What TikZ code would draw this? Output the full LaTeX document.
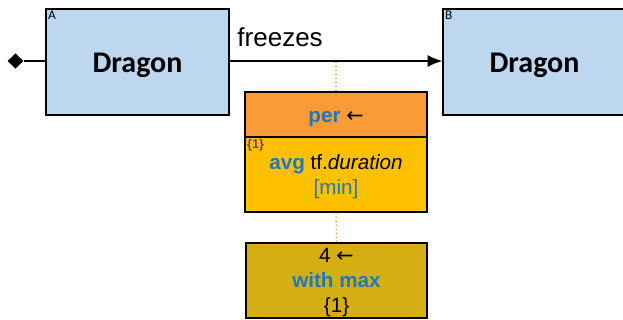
\documentclass[tikz,border=0pt]{standalone}
\usepackage{fontspec}
\setmainfont{Liberation Sans}
\newfontfamily\calibri{Carlito}
\newfontfamily\symfont{DejaVu Sans}
\usetikzlibrary{arrows.meta,shapes.geometric}
\definecolor{entfill}{RGB}{189,215,238}
\definecolor{perfill}{RGB}{250,155,55}
\definecolor{aggfill}{RGB}{255,192,0}
\definecolor{limfill}{RGB}{212,174,18}
\definecolor{aggblue}{RGB}{30,120,190}
\definecolor{tagpurple}{RGB}{112,48,160}
\definecolor{dotorange}{RGB}{240,160,60}
\newcommand{\larr}{{\symfont ←}}

\begin{document}
\begin{tikzpicture}[x=0.75pt,y=-0.75pt,
  every node/.style={font=\fontsize{15.5}{19}\selectfont},
  ent/.style={draw=black,fill=entfill,line width=1.1pt,inner sep=0pt,minimum width=137.25pt,minimum height=79.5pt,text height=16.5pt,text depth=0pt,font=\calibri\bfseries\fontsize{22.5}{27}\selectfont},
  tag/.style={anchor=north west,inner sep=2pt,font=\calibri\fontsize{10}{11}\selectfont},
  op/.style={draw=black,line width=1.1pt,align=center,inner sep=0pt,minimum width=136.5pt},
  ref/.style={anchor=north west,inner sep=2pt,text=tagpurple,font=\bfseries\fontsize{9.5}{10}\selectfont},
  ar/.style={-{Latex[length=11pt,width=9pt]},line width=1.1pt},
  dot/.style={dotorange,dotted,line width=1pt}]
\useasboundingbox (0,0) rectangle (623,320);
\clip (0,0) rectangle (623,320);
\node[ent,label={[tag]north west:A}] (A) at (137.5,62) {Dragon};
\node[ent,label={[tag]north west:B}] (B) at (534.5,62) {Dragon};
\node[diamond,fill=black,inner sep=0pt,minimum width=12pt,minimum height=11.5pt] (d) at (15.5,61) {};
\node[op,fill=perfill,minimum height=33.75pt,text height=12pt,text depth=0pt] (per) at (336,114.5) {\textbf{\color{aggblue}per} \larr};
\node[op,fill=aggfill,minimum height=56.25pt,text depth=0pt,label={[ref]north west:\{1\}}] (agg) at (336,174.5) {\textbf{\color{aggblue}avg} tf.\textit{duration}\\{\color{aggblue}[min]}};
\node[op,fill=limfill,minimum height=56.25pt,minimum width=135.75pt,text depth=-3.5pt,font=\fontsize{15.5}{18.75}\selectfont] (lim) at (336.5,280.5) {4 \larr\\\textbf{\color{aggblue}with max}\\\{1\}};
\coordinate (tap) at (336,62);
\draw[line width=1.1pt] (d.east) -- (A.west |- d.east);
\draw[ar] (A.east |- d.east) -- node[pos=0,anchor=base west,inner sep=0pt,xshift=5.25pt,yshift=10.5pt,font=\fontsize{19.5}{23}\selectfont] (lbl) {freezes} (B.west |- d.east);
\draw[dot] (tap) -- (per.north);
\draw[dot] (agg.south) -- (lim.north);
\end{tikzpicture}
\end{document}
